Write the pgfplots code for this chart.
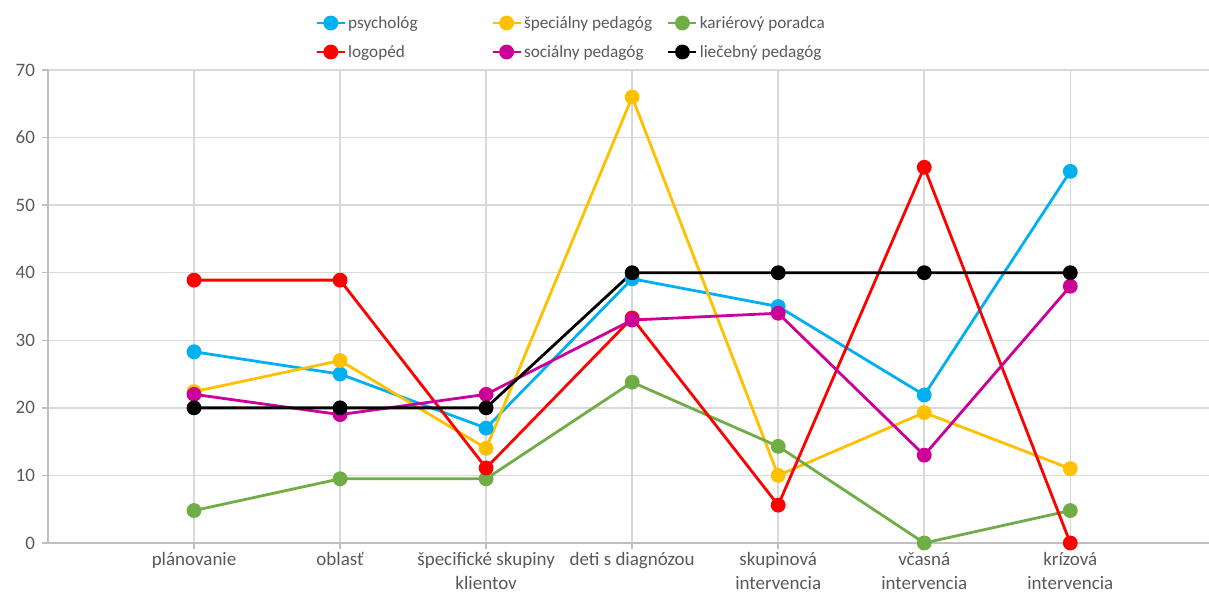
\documentclass[border=0pt]{standalone}
\usepackage{pgfplots}
\pgfplotsset{compat=1.18}
\usepackage{fontspec}
\setmainfont{Carlito}
\definecolor{cPsy}{HTML}{00B0F0}
\definecolor{cSpec}{HTML}{FFC000}
\definecolor{cKar}{HTML}{70AD47}
\definecolor{cLog}{HTML}{FF0000}
\definecolor{cSoc}{HTML}{CC0099}
\definecolor{cLie}{HTML}{000000}
\definecolor{txt}{HTML}{595959}
\definecolor{gridc}{HTML}{D9D9D9}
\definecolor{axc}{HTML}{BFBFBF}
\newcommand{\legtxt}[1]{\makebox[71.5pt][l]{#1}}
\begin{document}
\begin{tikzpicture}
\path[use as bounding box] (-24pt,-24.5pt) rectangle (580.5pt,271.5pt);
\begin{axis}[
    scale only axis,
    width=580.5pt, height=236.5pt,
    xmin=-1, xmax=6.95,
    ymin=0, ymax=70,
    ytick={0,10,...,70},
    xtick={0,...,6},
    xticklabels={plánovanie, oblasť, {špecifické skupiny\\klientov}, deti s diagnózou, {skupinová\\intervencia}, {včasná\\intervencia}, {krízová\\intervencia}},
    axis lines=left,
    axis line style={-, draw=axc, line width=1pt},
    grid=major,
    grid style={gridc, line width=0.75pt},
    tick align=outside,
    major tick length=3pt,
    tick style={axc, line width=0.75pt},
    ticklabel style={font=\fontsize{9.5}{12}\selectfont, text=txt},
    x tick label style={align=center, yshift=2pt},
    /pgf/number format/assume math mode=true,
    every axis plot/.append style={line width=1.4pt, mark=*, mark size=3pt},
    legend columns=3,
    legend style={
        draw=none, fill=none, inner sep=0pt,
        at={(axis description cs:0.2300,1.0687)}, anchor=west,
        font=\fontsize{8.6}{11}\selectfont, text=txt,
        row sep=5.5pt,
        nodes={inner sep=0pt, text height=7pt, text depth=2pt},
        /tikz/every odd column/.style={column sep=1pt},
    },
    legend image code/.code={
        \draw[mark repeat=2, mark phase=2] plot coordinates {(0pt,0pt) (7pt,0pt) (14pt,0pt)};
    },
]
\addplot[cPsy, mark options={fill=cPsy}] coordinates {(0,28.3) (1,25) (2,17) (3,39.1) (4,35) (5,21.9) (6,55)};
\addlegendentry{\legtxt{psychológ}}
\addplot[cSpec, mark options={fill=cSpec}] coordinates {(0,22.4) (1,27) (2,14) (3,66) (4,10) (5,19.3) (6,11)};
\addlegendentry{\legtxt{špeciálny pedagóg}}
\addplot[cKar, mark options={fill=cKar}] coordinates {(0,4.8) (1,9.5) (2,9.5) (3,23.8) (4,14.3) (5,0) (6,4.8)};
\addlegendentry{\legtxt{kariérový poradca}}
\addplot[cLog, mark options={fill=cLog}] coordinates {(0,38.9) (1,38.9) (2,11.1) (3,33.3) (4,5.6) (5,55.6) (6,0)};
\addlegendentry{\legtxt{logopéd}}
\addplot[cSoc, mark options={fill=cSoc}] coordinates {(0,22) (1,19) (2,22) (3,33) (4,34) (5,13) (6,38)};
\addlegendentry{\legtxt{sociálny pedagóg}}
\addplot[cLie, mark options={fill=cLie}] coordinates {(0,20) (1,20) (2,20) (3,40) (4,40) (5,40) (6,40)};
\addlegendentry{\legtxt{liečebný pedagóg}}
\end{axis}
\end{tikzpicture}
\end{document}
